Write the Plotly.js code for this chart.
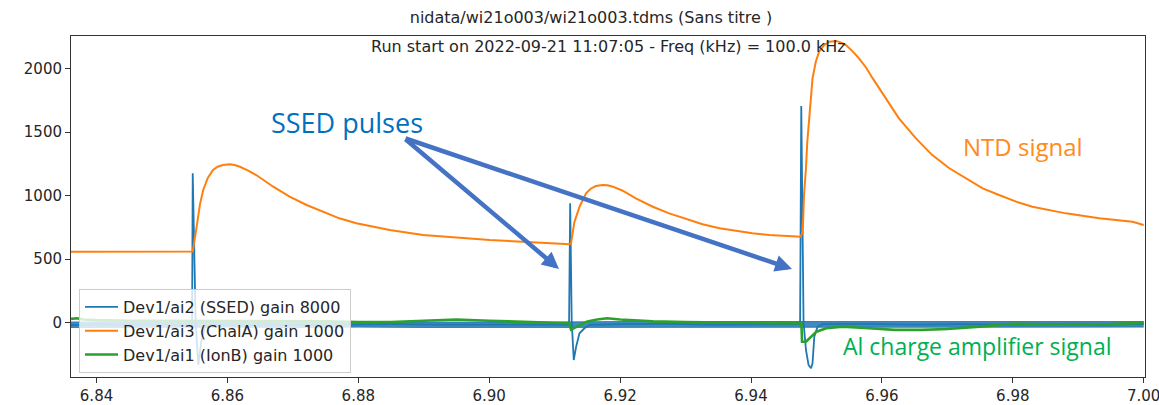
<!DOCTYPE html>
<html>
<head>
<meta charset="utf-8">
<script src="https://cdn.plot.ly/plotly-3.0.1.min.js"></script>
<style>html,body{margin:0;padding:0;background:#fff;}#chart{width:1159px;height:405px;}</style>
</head>
<body>
<div id="chart"></div>
<script>
// ---- data ----
var ssedT = [6.8361, 6.8400, 6.8450, 6.8500, 6.8546, 6.8547, 6.85515, 6.85555, 6.8560, 6.8565, 6.8572, 6.8620, 6.8700, 6.8780, 6.8850, 6.8920, 6.9000, 6.9060, 6.9122, 6.91237, 6.91261, 6.91292, 6.91328, 6.91379, 6.91455, 6.91531, 6.9200, 6.9270, 6.9340, 6.9410, 6.9475, 6.94768, 6.94803, 6.94840, 6.94879, 6.94917, 6.94940, 6.94967, 6.95017, 6.95093, 6.9570, 6.9650, 6.9720, 6.9800, 6.9870, 6.9940, 7.0000];
var ssedV = [-20, -15, -15, -15, -15, 1176, 0, -333, -150, -40, -15, -15, -18, -15, -12, -15, -18, -15, -15, 940, 0, -294, -189, -84, -44, -18, -12, -10, -15, -12, -12, 1706, 0, -215, -333, -359, -320, -110, -31, -12, -10, -15, -12, -15, -12, -15, -12];

// noise envelope of the SSED baseline
var noiseT  = [6.8361, 6.8500, 6.8600, 6.8700, 6.8800, 6.8900, 6.9000, 6.9100, 6.9200, 6.9300, 6.9400, 6.9500, 6.9600, 6.9700, 6.9800, 6.9900, 7.0000];
var noiseHi = [5, 5, 3, 3, 7, 5, 5, 5, 9, 9, 7, 9, 9, 11, 7, 9, 9];
var noiseLo = [-38, -35, -35, -38, -35, -38, -38, -35, -33, -35, -35, -33, -35, -35, -38, -35, -35];

var chalT = [6.8361, 6.8450, 6.8547, 6.8553, 6.8558, 6.8563, 6.8570, 6.8578, 6.8585, 6.8593, 6.8604, 6.8611, 6.8619, 6.8631, 6.8644, 6.8670, 6.8695, 6.8721, 6.8746, 6.8771, 6.8797, 6.8848, 6.8899, 6.8950, 6.9001, 6.9051, 6.9102, 6.9123, 6.9125, 6.9130, 6.9138, 6.9148, 6.9155, 6.9163, 6.9173, 6.9181, 6.9189, 6.9204, 6.9224, 6.9250, 6.9275, 6.9301, 6.9326, 6.9352, 6.9377, 6.9402, 6.9428, 6.9453, 6.9476, 6.9479, 6.9481, 6.9484, 6.9486, 6.9489, 6.9492, 6.9494, 6.9499, 6.9504, 6.9512, 6.9520, 6.9530, 6.9537, 6.9545, 6.9555, 6.9565, 6.9576, 6.9586, 6.9606, 6.9626, 6.9652, 6.9677, 6.9703, 6.9728, 6.9754, 6.9779, 6.9805, 6.9830, 6.9881, 6.9932, 6.9983, 7.0000];
var chalV = [558, 560, 560, 756, 930, 1045, 1140, 1202, 1228, 1242, 1247, 1242, 1228, 1200, 1163, 1071, 992, 927, 874, 822, 783, 730, 690, 669, 651, 638, 625, 618, 625, 790, 913, 1019, 1055, 1076, 1084, 1082, 1071, 1039, 979, 913, 861, 814, 775, 743, 722, 704, 690, 683, 677, 717, 1006, 1216, 1425, 1609, 1780, 1924, 2055, 2134, 2187, 2213, 2218, 2208, 2187, 2139, 2082, 2008, 1924, 1767, 1609, 1452, 1320, 1216, 1137, 1058, 1006, 953, 913, 861, 822, 795, 769];

var ionT = [6.8361, 6.8370, 6.8380, 6.8400, 6.8450, 6.8500, 6.8550, 6.8600, 6.8650, 6.8700, 6.8750, 6.8800, 6.8850, 6.8900, 6.8950, 6.9000, 6.9050, 6.9100, 6.9122, 6.9125, 6.9135, 6.9150, 6.9165, 6.9180, 6.9200, 6.9250, 6.9300, 6.9350, 6.9400, 6.9450, 6.9477, 6.9478, 6.9484, 6.9490, 6.9500, 6.9515, 6.9540, 6.9580, 6.9620, 6.9660, 6.9700, 6.9750, 6.9800, 6.9850, 6.9900, 6.9950, 7.0000];
var ionV = [30, 35, 25, 20, 15, 15, 10, 15, 15, 10, 10, 5, 5, 15, 25, 15, 5, 0, -5, -55, -30, 10, 25, 35, 25, 10, 5, 0, -5, -5, -5, -150, -150, -123, -71, -44, -31, -44, -57, -57, -50, -31, -8, -13, -12, -10, -2];

var xTicks = [6.84, 6.86, 6.88, 6.90, 6.92, 6.94, 6.96, 6.98, 7.00];
var yTicks = [0, 500, 1000, 1500, 2000];

var names = ['Dev1/ai2 (SSED) gain 8000', 'Dev1/ai3 (ChalA) gain 1000', 'Dev1/ai1 (IonB) gain 1000'];
var colors = ['#1f77b4', '#ff7f0e', '#2ca02c'];

var mainTitle = 'nidata/wi21o003/wi21o003.tdms (Sans titre )';
var subTitle = 'Run start on 2022-09-21 11:07:05 - Freq (kHz) = 100.0 kHz';

// ---- geometry helpers (pixel -> paper) ----
var W = 1159, H = 405, ML = 71, MR = 14, MT = 36, MB = 28;
var PW = W - ML - MR, PH = H - MT - MB;
function px(x) { return (x - ML) / PW; }
function py(y) { return (H - MB - y) / PH; }

var traces = [
  {x: noiseT, y: noiseLo, mode: 'lines', line: {color: 'rgba(31,119,180,0.85)', width: 1}, showlegend: false, hoverinfo: 'skip'},
  {x: noiseT, y: noiseHi, mode: 'lines', line: {color: 'rgba(31,119,180,0.85)', width: 1}, fill: 'tonexty', fillcolor: 'rgba(31,119,180,0.85)', showlegend: false, hoverinfo: 'skip'},
  {x: ssedT, y: ssedV, mode: 'lines', name: names[0], line: {color: colors[0], width: 1.8}},
  {x: chalT, y: chalV, mode: 'lines', name: names[1], line: {color: colors[1], width: 2}},
  {x: ionT, y: ionV, mode: 'lines', name: names[2], line: {color: colors[2], width: 2.6}}
];

var tailX = 404, tailY = 138;
var heads = [[559, 269], [792, 269]];
var annotations = [
  {text: subTitle, xref: 'paper', yref: 'paper', x: 0.5, y: py(47), xanchor: 'center', yanchor: 'middle', showarrow: false, font: {family: 'DejaVu Sans', size: 16, color: '#262626'}},
  {text: 'SSED pulses', xref: 'paper', yref: 'paper', x: px(347), y: py(122), xanchor: 'center', yanchor: 'middle', showarrow: false, font: {family: 'Open Sans', size: 27, color: '#0070C0'}},
  {text: 'NTD signal', xref: 'paper', yref: 'paper', x: px(1023), y: py(146), xanchor: 'center', yanchor: 'middle', showarrow: false, font: {family: 'Open Sans', size: 24, color: '#FF8C1A'}},
  {text: 'Al charge amplifier signal', xref: 'paper', yref: 'paper', x: px(977), y: py(346), xanchor: 'center', yanchor: 'middle', showarrow: false, font: {family: 'Open Sans', size: 23, color: '#00B050'}}
];
heads.forEach(function (h) {
  annotations.push({text: '', xref: 'paper', yref: 'paper', x: px(h[0]), y: py(h[1]), ax: tailX - h[0], ay: tailY - h[1], showarrow: true, arrowhead: 2, arrowsize: 0.75, arrowwidth: 4.5, arrowcolor: '#4472C4', standoff: 0});
});

var axisCommon = {showgrid: false, zeroline: false, showline: true, mirror: true, linecolor: '#333', linewidth: 1, ticks: 'outside', ticklen: 5, tickwidth: 1, tickcolor: '#333', ticklabeloverflow: 'allow', tickfont: {family: 'DejaVu Sans', size: 15, color: '#262626'}};

var layout = {
  width: W, height: H,
  margin: {l: ML, r: MR, t: MT, b: MB, pad: 0},
  paper_bgcolor: '#fff', plot_bgcolor: '#fff',
  font: {family: 'DejaVu Sans', color: '#262626'},
  title: {text: mainTitle, x: 591 / W, xanchor: 'center', y: 1 - 17 / H, yanchor: 'middle', font: {family: 'DejaVu Sans', size: 16, color: '#262626'}},
  xaxis: Object.assign({}, axisCommon, {range: [6.8361, 7.0002], tickvals: xTicks, tickformat: '.2f'}),
  yaxis: Object.assign({}, axisCommon, {range: [-428, 2258], tickvals: yTicks, tickformat: 'd'}),
  showlegend: true,
  legend: {x: px(79), y: py(373), xanchor: 'left', yanchor: 'bottom', traceorder: 'normal', bgcolor: 'rgba(255,255,255,0.8)', bordercolor: '#cccccc', borderwidth: 1, font: {family: 'DejaVu Sans', size: 16, color: '#262626'}, itemwidth: 33, tracegroupgap: 0},
  annotations: annotations
};

Plotly.newPlot('chart', traces, layout, {displayModeBar: false, staticPlot: true});
</script>
</body>
</html>
